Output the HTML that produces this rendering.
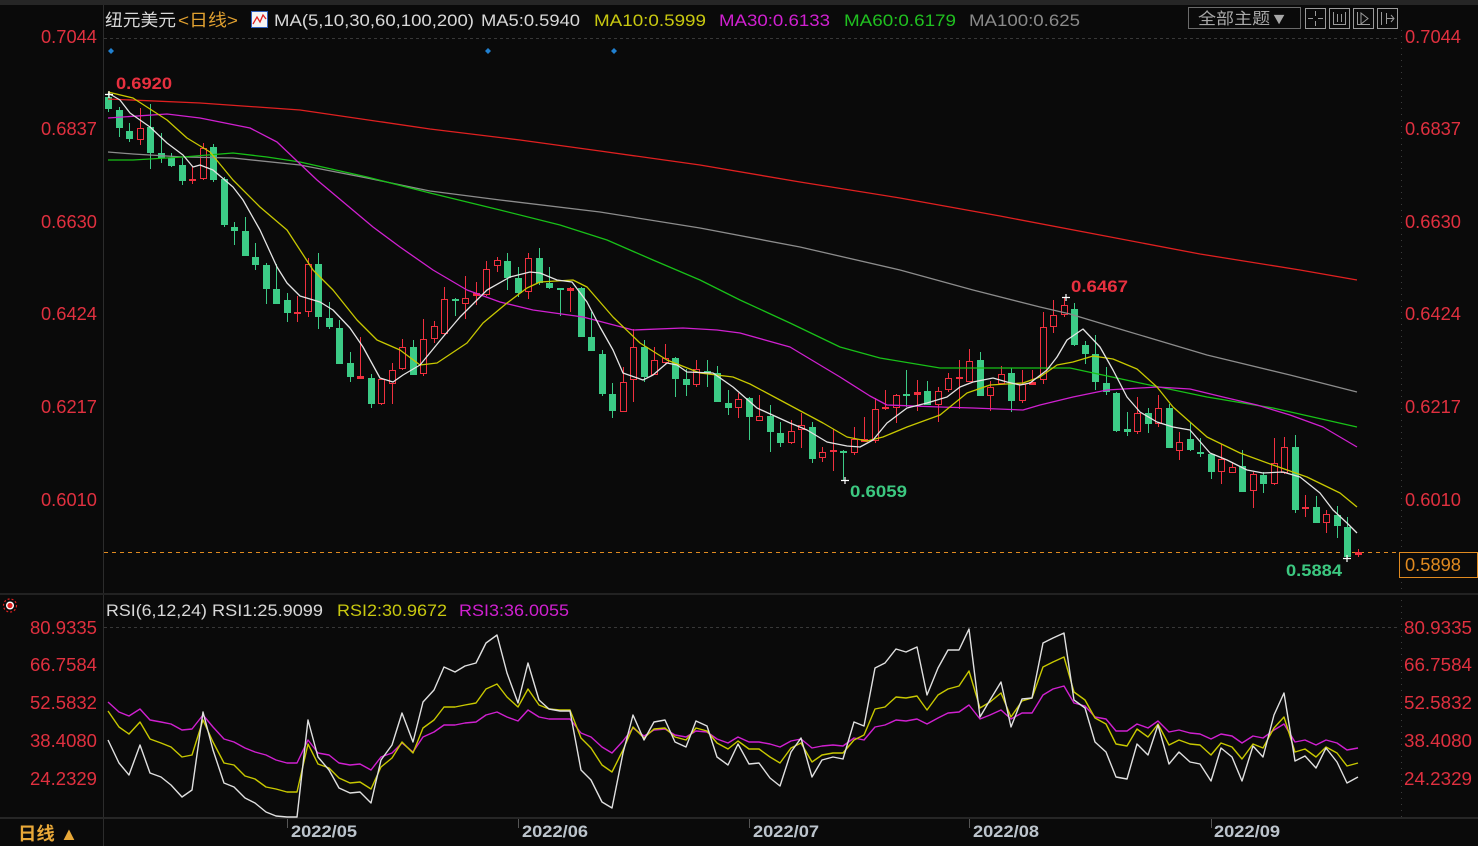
<!DOCTYPE html>
<html><head><meta charset="utf-8">
<style>
html,body{margin:0;padding:0;background:#0a0a0a;}
body{width:1478px;height:846px;overflow:hidden;}
svg{display:block;}
text{font-family:"Liberation Sans","Noto Sans CJK SC",sans-serif;}
.ax{font-size:18px;fill:#e0303f;}
.gw{stroke:#3ccb86;stroke-width:1;fill:none;}
.g{fill:#3ccb86;}
.rw{stroke:#f0303f;stroke-width:1;fill:none;}
.r{fill:#0a0a0a;stroke:#f0303f;stroke-width:1;}
.rf{fill:#f0303f;}
.ma{fill:none;stroke-width:1.3;stroke-linejoin:round;}
.rsi{fill:none;stroke-width:1.4;stroke-linejoin:round;}
</style></head>
<body>
<svg width="1478" height="846" viewBox="0 0 1478 846" xmlns="http://www.w3.org/2000/svg">
<rect x="0" y="0" width="1478" height="846" fill="#0a0a0a"/>
<!-- top strip -->
<rect x="0" y="0" width="1478" height="5" fill="#262626"/>
<!-- frame lines -->
<line x1="103.5" y1="5" x2="103.5" y2="846" stroke="#2c2c2c"/>
<line x1="1401.5" y1="30" x2="1401.5" y2="818" stroke="#3a3a3a" stroke-dasharray="1 5"/>
<rect x="0" y="593" width="1478" height="2" fill="#222"/>
<rect x="0" y="817" width="1478" height="2" fill="#262626"/>
<!-- dashed grid -->
<line x1="104" y1="38.5" x2="1400" y2="38.5" stroke="#383838" stroke-dasharray="3 3"/>
<line x1="104" y1="627.5" x2="1400" y2="627.5" stroke="#383838" stroke-dasharray="3 3"/>

<!-- legend -->
<text x="105" y="26" font-size="17" fill="#d8d8d8" textLength="71" lengthAdjust="spacingAndGlyphs">纽元美元</text>
<text x="178" y="26" font-size="17" fill="#e0a030" textLength="60" lengthAdjust="spacingAndGlyphs">&lt;日线&gt;</text>
<rect x="251.5" y="11.5" width="16" height="16" fill="#f4f4f4" stroke="#3060c0"/>
<polyline points="253,24 257,17 260,22 263,15 266,19" fill="none" stroke="#e02020" stroke-width="1.3"/>
<text x="274" y="26" font-size="17" fill="#d8d8d8" textLength="200" lengthAdjust="spacingAndGlyphs">MA(5,10,30,60,100,200)</text>
<text x="481" y="26" font-size="17" fill="#d8d8d8" textLength="99" lengthAdjust="spacingAndGlyphs">MA5:0.5940</text>
<text x="594" y="26" font-size="17" fill="#c8c810" textLength="112" lengthAdjust="spacingAndGlyphs">MA10:0.5999</text>
<text x="719" y="26" font-size="17" fill="#d020d0" textLength="111" lengthAdjust="spacingAndGlyphs">MA30:0.6133</text>
<text x="844" y="26" font-size="17" fill="#20c020" textLength="112" lengthAdjust="spacingAndGlyphs">MA60:0.6179</text>
<text x="969" y="26" font-size="17" fill="#8a8a8a" textLength="111" lengthAdjust="spacingAndGlyphs">MA100:0.625</text>

<!-- top-right buttons -->
<rect x="1188.5" y="7.5" width="112" height="21" fill="none" stroke="#6a6a6a"/>
<text x="1198" y="24" font-size="16" fill="#a8a8a8" textLength="90" lengthAdjust="spacingAndGlyphs">全部主题▼</text>
<g fill="none" stroke="#9a9a9a">
<rect x="1305.5" y="8.5" width="20" height="20"/>
<rect x="1329.5" y="8.5" width="20" height="20"/>
<rect x="1353.5" y="8.5" width="20" height="20"/>
<rect x="1377.5" y="8.5" width="20" height="20"/>
<path d="M1315.5 11V16M1315.5 21V26M1308 18.5H1313M1318 18.5H1323"/>
<path d="M1333.5 12V25M1345.5 12V25M1333 24.5H1346M1337.5 14V22M1341.5 14V22"/>
<path d="M1357.5 12V25M1357 24.5H1370M1361 13L1368 18.5L1361 24Z"/>
<path d="M1381.5 12V25M1386.5 13V24M1386 18.5H1394M1391 15L1394 18.5L1391 22"/>
</g>

<!-- blue markers -->
<g fill="#2080d0">
<path d="M111 48l3 3l-3 3l-3-3z"/>
<path d="M488 48l3 3l-3 3l-3-3z"/>
<path d="M614 48l3 3l-3 3l-3-3z"/>
</g>

<!-- price axis labels -->
<g class="ax">
<text x="97" y="43" text-anchor="end" textLength="56" lengthAdjust="spacingAndGlyphs">0.7044</text>
<text x="97" y="135" text-anchor="end" textLength="56" lengthAdjust="spacingAndGlyphs">0.6837</text>
<text x="97" y="228" text-anchor="end" textLength="56" lengthAdjust="spacingAndGlyphs">0.6630</text>
<text x="97" y="320" text-anchor="end" textLength="56" lengthAdjust="spacingAndGlyphs">0.6424</text>
<text x="97" y="413" text-anchor="end" textLength="56" lengthAdjust="spacingAndGlyphs">0.6217</text>
<text x="97" y="506" text-anchor="end" textLength="56" lengthAdjust="spacingAndGlyphs">0.6010</text>
<text x="1405" y="43" textLength="56" lengthAdjust="spacingAndGlyphs">0.7044</text>
<text x="1405" y="135" textLength="56" lengthAdjust="spacingAndGlyphs">0.6837</text>
<text x="1405" y="228" textLength="56" lengthAdjust="spacingAndGlyphs">0.6630</text>
<text x="1405" y="320" textLength="56" lengthAdjust="spacingAndGlyphs">0.6424</text>
<text x="1405" y="413" textLength="56" lengthAdjust="spacingAndGlyphs">0.6217</text>
<text x="1405" y="506" textLength="56" lengthAdjust="spacingAndGlyphs">0.6010</text>
<!-- RSI axis labels -->
<text x="97" y="634" text-anchor="end" textLength="67" lengthAdjust="spacingAndGlyphs">80.9335</text>
<text x="97" y="671" text-anchor="end" textLength="67" lengthAdjust="spacingAndGlyphs">66.7584</text>
<text x="97" y="709" text-anchor="end" textLength="67" lengthAdjust="spacingAndGlyphs">52.5832</text>
<text x="97" y="747" text-anchor="end" textLength="67" lengthAdjust="spacingAndGlyphs">38.4080</text>
<text x="97" y="785" text-anchor="end" textLength="67" lengthAdjust="spacingAndGlyphs">24.2329</text>
<text x="1404" y="634" textLength="68" lengthAdjust="spacingAndGlyphs">80.9335</text>
<text x="1404" y="671" textLength="68" lengthAdjust="spacingAndGlyphs">66.7584</text>
<text x="1404" y="709" textLength="68" lengthAdjust="spacingAndGlyphs">52.5832</text>
<text x="1404" y="747" textLength="68" lengthAdjust="spacingAndGlyphs">38.4080</text>
<text x="1404" y="785" textLength="68" lengthAdjust="spacingAndGlyphs">24.2329</text>
</g>

<!-- current price line & box -->
<line x1="104" y1="552.5" x2="1399" y2="552.5" stroke="#e08a20" stroke-dasharray="4 4"/>
<rect x="1399.5" y="552.5" width="78" height="25" fill="#0a0a0a" stroke="#e08a20"/>
<text x="1405" y="571" font-size="18" fill="#e08a20" textLength="56" lengthAdjust="spacingAndGlyphs">0.5898</text>

<!-- candles -->
<g shape-rendering="crispEdges">
<path class="gw" d="M108.5 93V112M119.5 107V137M129.5 123V142M150.5 104V169M161.5 133V163M171.5 153V167M182.5 158V185M213.5 144V182M224.5 177V227M234.5 222V245M245.5 217V256M255.5 243V270M266.5 263V304M276.5 264V304M287.5 293V322M318.5 253V329M329.5 302V329M339.5 320V364M350.5 352V382M371.5 374V408M413.5 340V375M455.5 298V316M507.5 253V290M518.5 267V297M539.5 248V285M549.5 267V289M560.5 288V316M581.5 287V337M591.5 312V351M602.5 350V396M612.5 383V418M644.5 340V382M675.5 357V397M686.5 369V396M707.5 360V387M717.5 366V402M728.5 390V415M749.5 397V440M770.5 405V452M780.5 422V447M812.5 422V463M843.5 450V480M906.5 370V407M927.5 381V405M980.5 352V396M1011.5 368V412M1074.5 303V346M1085.5 341V364M1095.5 335V390M1106.5 367V395M1116.5 392V432M1127.5 412V436M1148.5 408V433M1169.5 404V448M1190.5 422V451M1200.5 438V457M1211.5 453V479M1242.5 450V492M1263.5 472V493M1295.5 435V513M1316.5 496V523M1337.5 506V538M1347.5 517V558"/>
<path class="g" d="M105 97h7v12h-7zM116 110h7v18h-7zM126 131h7v8h-7zM147 127h7v26h-7zM158 153h7v5h-7zM168 158h7v8h-7zM179 165h7v16h-7zM210 147h7v33h-7zM221 179h7v46h-7zM231 227h7v4h-7zM242 231h7v25h-7zM252 257h7v8h-7zM263 265h7v24h-7zM273 289h7v15h-7zM284 300h7v13h-7zM315 264h7v53h-7zM326 318h7v9h-7zM336 328h7v36h-7zM347 363h7v14h-7zM368 378h7v26h-7zM410 347h7v28h-7zM452 299h7v2h-7zM504 261h7v17h-7zM515 278h7v15h-7zM536 258h7v25h-7zM546 283h7v5h-7zM557 288h7v2h-7zM578 288h7v49h-7zM588 337h7v14h-7zM599 354h7v40h-7zM609 394h7v17h-7zM641 347h7v30h-7zM672 358h7v21h-7zM683 379h7v6h-7zM704 371h7v2h-7zM714 373h7v29h-7zM725 403h7v5h-7zM746 398h7v19h-7zM767 416h7v16h-7zM777 433h7v10h-7zM809 427h7v32h-7zM840 451h7v2h-7zM903 394h7v2h-7zM924 391h7v14h-7zM977 360h7v36h-7zM1008 373h7v28h-7zM1071 309h7v36h-7zM1082 345h7v9h-7zM1092 354h7v28h-7zM1103 383h7v9h-7zM1113 393h7v38h-7zM1124 429h7v3h-7zM1145 413h7v11h-7zM1166 408h7v40h-7zM1187 439h7v11h-7zM1197 452h7v2h-7zM1208 454h7v18h-7zM1239 466h7v26h-7zM1260 475h7v9h-7zM1292 447h7v63h-7zM1313 507h7v16h-7zM1334 515h7v11h-7zM1344 527h7v30h-7z"/>
<path class="rw" d="M140.5 108V145M192.5 167V184M203.5 143V180M297.5 296V322M308.5 258V317M360.5 337V379M381.5 378V405M392.5 363V404M402.5 339V370M423.5 319V376M434.5 321V343M444.5 287V335M465.5 276V319M476.5 282V305M486.5 261V296M497.5 257V272M528.5 253V299M570.5 287V312M623.5 367V412M633.5 329V402M654.5 347V375M665.5 344V364M696.5 360V387M738.5 393V418M759.5 395V421M791.5 420V444M801.5 413V448M822.5 447V462M833.5 429V471M854.5 427V455M864.5 417V442M875.5 398V443M885.5 390V410M896.5 394V423M917.5 380V411M938.5 387V422M948.5 373V392M959.5 360V409M969.5 349V382M990.5 381V411M1001.5 366V384M1022.5 370V403M1032.5 370V385M1043.5 312V384M1053.5 300V333M1064.5 297V317M1137.5 397V434M1158.5 395V427M1179.5 432V460M1221.5 444V484M1232.5 462V473M1253.5 472V508M1274.5 438V485M1284.5 437V474M1305.5 495V517M1326.5 510V533M1358.5 549V557"/>
<path class="r" d="M137.5 128.5h6v11h-6zM200.5 148.5h6v30h-6zM305.5 264.5h6v47h-6zM378.5 379.5h6v24h-6zM389.5 370.5h6v13h-6zM399.5 347.5h6v21h-6zM420.5 339.5h6v34h-6zM431.5 326.5h6v12h-6zM441.5 299.5h6v34h-6zM462.5 298.5h6v5h-6zM483.5 269.5h6v25h-6zM494.5 260.5h6v5h-6zM525.5 258.5h6v33h-6zM620.5 382.5h6v29h-6zM630.5 347.5h6v32h-6zM651.5 360.5h6v14h-6zM662.5 358.5h6v4h-6zM693.5 369.5h6v15h-6zM735.5 399.5h6v8h-6zM756.5 416.5h6v4h-6zM788.5 431.5h6v11h-6zM798.5 425.5h6v4h-6zM819.5 452.5h6v5h-6zM851.5 439.5h6v13h-6zM872.5 409.5h6v31h-6zM893.5 395.5h6v12h-6zM935.5 391.5h6v13h-6zM945.5 378.5h6v11h-6zM966.5 361.5h6v20h-6zM987.5 387.5h6v8h-6zM998.5 374.5h6v9h-6zM1019.5 384.5h6v16h-6zM1040.5 327.5h6v52h-6zM1050.5 315.5h6v11h-6zM1061.5 305.5h6v9h-6zM1134.5 413.5h6v18h-6zM1155.5 408.5h6v15h-6zM1176.5 442.5h6v8h-6zM1218.5 459.5h6v12h-6zM1229.5 467.5h6v5h-6zM1250.5 474.5h6v16h-6zM1271.5 463.5h6v20h-6zM1281.5 447.5h6v25h-6zM1323.5 514.5h6v8h-6z"/>
<path class="rf" d="M189 179h7v2h-7zM294 312h7v2h-7zM357 376h7v3h-7zM473 293h7v3h-7zM567 288h7v3h-7zM830 450h7v2h-7zM861 439h7v3h-7zM882 407h7v2h-7zM914 392h7v3h-7zM956 377h7v2h-7zM1029 382h7v3h-7zM1302 507h7v2h-7zM1355 552h7v3h-7z"/>
</g>

<!-- moving averages -->
<polyline class="ma" stroke="#e02020" points="108,99 200,103 300,110 430,129 520,140 600,151 700,165 800,182 900,198 1000,216 1100,235 1200,254 1300,270 1357,280"/>
<polyline class="ma" stroke="#8c8c8c" points="108,152 133,154 183,157 233,158 300,165 367,178 430,191 500,200 600,212 700,228 800,247 900,270 973,290 1040,307 1070,314 1123,330 1207,355 1290,375 1357,392"/>
<polyline class="ma" stroke="#18c018" points="108,160 133,160 183,157 233,153 267,157 300,162 367,177 430,193 500,210 560,225 607,240 653,260 700,280 740,300 790,323 840,347 880,358 940,368 1000,368 1070,368 1140,383 1207,397 1273,408 1357,427"/>
<polyline class="ma" stroke="#d020d0" points="108,118 167,114 200,118 250,128 277,142 317,180 373,227 400,247 433,270 467,290 500,302 533,310 583,317 633,330 683,328 717,330 740,333 790,347 840,377 870,396 887,405 940,407 973,408 1023,410 1040,405 1073,397 1107,390 1157,387 1190,389 1223,397 1257,405 1290,415 1323,427 1357,447"/>
<polyline class="ma" stroke="#c8c800" points="108,92 133,98 167,120 187,138 210,152 233,180 260,207 287,230 313,270 333,290 357,320 377,340 400,350 420,365 437,363 467,343 483,323 507,303 527,288 540,282 573,280 587,287 613,317 640,343 667,360 700,373 733,377 750,384 780,400 823,423 847,437 867,441 883,437 907,427 940,415 967,393 990,385 1023,383 1040,377 1057,365 1073,362 1093,356 1113,359 1137,369 1157,387 1173,407 1207,437 1240,453 1273,465 1307,477 1340,493 1357,507"/>
<polyline class="ma" stroke="#e4e4e4" points="108,93 120,100 130,113 150,127 167,143 183,155 193,167 200,165 213,170 233,187 243,200 260,230 277,267 287,283 300,296 320,302 333,310 350,328 363,347 380,378 393,382 403,375 420,365 443,337 460,317 487,290 510,277 530,272 540,273 557,280 572,282 587,302 600,327 613,350 623,373 643,380 653,375 667,363 677,365 687,372 713,373 733,387 757,408 790,423 807,430 827,442 847,446 860,447 873,440 887,423 907,408 927,403 947,397 960,387 973,382 993,378 1007,382 1020,385 1030,383 1047,370 1057,357 1067,340 1083,329 1100,347 1113,370 1127,397 1140,412 1157,422 1173,427 1190,430 1210,453 1227,460 1247,470 1263,473 1283,472 1300,477 1320,493 1333,510 1347,523 1357,533"/>

<!-- extreme markers -->
<g stroke="#ffffff" stroke-width="1.2">
<path d="M105 94.5h8M109 91v7"/>
<path d="M1062 297.5h8M1066 294v7"/>
<path d="M841 480.5h8M845 477v7"/>
<path d="M1343 558.5h8M1347 555v7"/>
</g>
<text x="116" y="89" font-size="17" font-weight="bold" fill="#e8303f" textLength="56" lengthAdjust="spacingAndGlyphs">0.6920</text>
<text x="1071" y="292" font-size="17" font-weight="bold" fill="#e8303f" textLength="57" lengthAdjust="spacingAndGlyphs">0.6467</text>
<text x="850" y="497" font-size="17" font-weight="bold" fill="#3cc880" textLength="57" lengthAdjust="spacingAndGlyphs">0.6059</text>
<text x="1286" y="576" font-size="17" font-weight="bold" fill="#3cc880" textLength="56" lengthAdjust="spacingAndGlyphs">0.5884</text>

<!-- RSI panel -->
<g>
<circle cx="10" cy="605.5" r="6.5" fill="none" stroke="#e02020" stroke-width="1.2" stroke-dasharray="2 2"/>
<circle cx="10" cy="605.5" r="4" fill="#ffffff"/>
<circle cx="10" cy="605.5" r="2.6" fill="#e02020"/>
</g>
<text x="106" y="616" font-size="17" fill="#d8d8d8" textLength="101" lengthAdjust="spacingAndGlyphs">RSI(6,12,24)</text>
<text x="212" y="616" font-size="17" fill="#d8d8d8" textLength="111" lengthAdjust="spacingAndGlyphs">RSI1:25.9099</text>
<text x="337" y="616" font-size="17" fill="#c8c810" textLength="110" lengthAdjust="spacingAndGlyphs">RSI2:30.9672</text>
<text x="459" y="616" font-size="17" fill="#d020d0" textLength="110" lengthAdjust="spacingAndGlyphs">RSI3:36.0055</text>

<polyline class="rsi" stroke="#d020d0" points="108,702 119,712 129,716 140,709 150,720 161,722 171,724 182,730 192,729 203,715 213,727 224,739 234,742 245,748 255,752 266,755 276,760 287,763 297,763 308,740 318,753 329,755 339,763 350,765 360,764 371,770 381,757 392,753 402,743 413,752 423,737 434,732 444,725 455,725 465,723 476,722 486,715 497,712 507,717 518,721 528,710 539,717 549,719 560,719 570,719 581,733 591,737 602,747 612,753 623,741 633,728 644,736 654,730 665,729 675,735 686,737 696,731 707,732 717,739 728,743 738,737 749,742 759,742 770,744 780,747 791,741 801,739 812,748 822,746 833,745 843,746 854,738 864,740 875,727 885,725 896,720 906,721 917,719 927,724 938,718 948,713 959,712 969,705 980,719 990,715 1001,710 1011,719 1022,713 1032,713 1043,695 1053,689 1064,686 1074,703 1085,706 1095,717 1106,719 1116,731 1127,731 1137,724 1148,728 1158,721 1169,732 1179,730 1190,733 1200,734 1211,739 1221,734 1232,736 1242,743 1253,736 1263,738 1274,730 1284,724 1295,742 1305,740 1316,745 1326,740 1337,743 1347,750 1358,748"/>
<polyline class="rsi" stroke="#c8c800" points="108,711 119,727 129,734 140,722 150,739 161,743 171,747 182,757 192,755 203,720 213,742 224,763 234,765 245,776 255,779 266,787 276,789 287,792 297,792 308,744 318,764 329,768 339,778 350,783 360,782 371,789 381,767 392,758 402,742 413,753 423,728 434,720 444,707 455,707 465,705 476,703 486,689 497,684 507,697 518,707 528,689 539,705 549,709 560,710 570,710 581,738 591,748 602,765 612,772 623,750 633,727 644,738 654,729 665,728 675,737 686,740 696,728 707,731 717,743 728,749 738,741 749,749 759,749 770,757 780,763 791,748 801,743 812,762 822,755 833,753 843,753 854,740 864,735 875,709 885,707 896,697 906,698 917,696 927,710 938,695 948,689 959,686 969,671 980,708 990,702 1001,693 1011,717 1022,701 1032,698 1043,667 1053,662 1064,657 1074,692 1085,700 1095,718 1106,724 1116,744 1127,746 1137,729 1148,737 1158,724 1169,745 1179,740 1190,744 1200,745 1211,755 1221,743 1232,747 1242,759 1253,744 1263,748 1274,728 1284,717 1295,752 1305,749 1316,757 1326,747 1337,753 1347,766 1358,763"/>
<polyline class="rsi" stroke="#e0e0e0" points="108,740 119,763 129,775 140,745 150,773 161,777 171,785 182,797 192,790 203,712 213,750 224,783 234,787 245,798 255,803 266,812 276,816 287,817 297,817 308,720 318,757 329,770 339,788 350,793 360,792 371,803 381,760 392,745 402,713 413,742 423,702 434,690 444,667 455,672 465,666 476,663 486,643 497,635 507,673 518,703 528,663 539,700 549,709 560,711 570,711 581,770 591,780 602,802 612,808 623,753 633,715 644,740 654,722 665,720 675,742 686,747 696,721 707,726 717,757 728,765 738,744 749,764 759,763 770,778 780,786 791,752 801,738 812,777 822,760 833,757 843,759 854,722 864,726 875,668 885,663 896,649 906,652 917,647 927,695 938,668 948,650 959,650 969,629 980,717 990,700 1001,682 1011,727 1022,699 1032,698 1043,643 1053,638 1064,633 1074,700 1085,708 1095,742 1106,752 1116,777 1127,779 1137,744 1148,755 1158,725 1169,764 1179,752 1190,762 1200,764 1211,781 1221,748 1232,757 1242,781 1253,746 1263,757 1274,715 1284,693 1295,761 1305,756 1316,768 1326,748 1337,762 1347,783 1358,777"/>

<!-- bottom axis -->
<g stroke="#555">
<line x1="287.5" y1="819" x2="287.5" y2="828"/>
<line x1="518.5" y1="819" x2="518.5" y2="828"/>
<line x1="749.5" y1="819" x2="749.5" y2="828"/>
<line x1="969.5" y1="819" x2="969.5" y2="828"/>
<line x1="1211.5" y1="819" x2="1211.5" y2="828"/>
</g>
<g font-size="17" font-weight="bold" fill="#bcc4cc">
<text x="291" y="837" textLength="66" lengthAdjust="spacingAndGlyphs">2022/05</text>
<text x="522" y="837" textLength="66" lengthAdjust="spacingAndGlyphs">2022/06</text>
<text x="753" y="837" textLength="66" lengthAdjust="spacingAndGlyphs">2022/07</text>
<text x="973" y="837" textLength="66" lengthAdjust="spacingAndGlyphs">2022/08</text>
<text x="1214" y="837" textLength="66" lengthAdjust="spacingAndGlyphs">2022/09</text>
</g>
<text x="18" y="840" font-size="18" font-weight="bold" fill="#e8a838" textLength="60" lengthAdjust="spacingAndGlyphs">日线 ▲</text>
</svg>
</body></html>
